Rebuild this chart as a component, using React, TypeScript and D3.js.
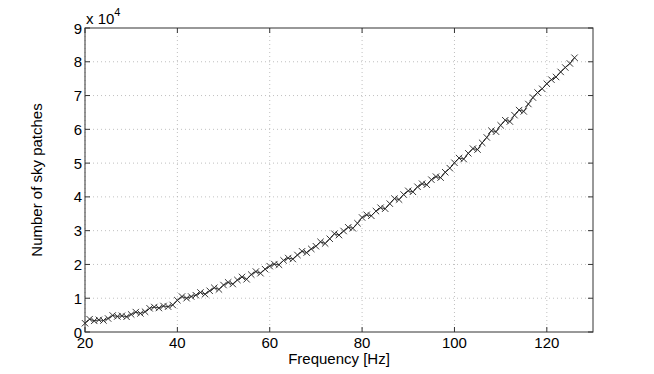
import React from 'react'
import * as d3 from 'd3'

// frequency bins (Hz) and the number of sky patches searched in each
const freqs = [
  20, 21, 22, 23, 24, 25, 26, 27, 28, 29,
  30, 31, 32, 33, 34, 35, 36, 37, 38, 39,
  40, 41, 42, 43, 44, 45, 46, 47, 48, 49,
  50, 51, 52, 53, 54, 55, 56, 57, 58, 59,
  60, 61, 62, 63, 64, 65, 66, 67, 68, 69,
  70, 71, 72, 73, 74, 75, 76, 77, 78, 79,
  80, 81, 82, 83, 84, 85, 86, 87, 88, 89,
  90, 91, 92, 93, 94, 95, 96, 97, 98, 99,
  100, 101, 102, 103, 104, 105, 106, 107, 108, 109,
  110, 111, 112, 113, 114, 115, 116, 117, 118, 119,
  120, 121, 122, 123, 124, 125, 126,
]
const patches = [
  2600, 3800, 3300, 3600, 3400, 4000, 4900, 4600, 4800, 4500,
  5200, 5900, 5500, 6000, 7000, 7400, 7100, 7700, 7500, 8000,
  9400, 10500, 10000, 10500, 10900, 11700, 11200, 12200, 13100, 12600,
  13900, 14700, 14200, 15400, 16300, 15600, 17000, 17900, 17400, 18600,
  19500, 20100, 19900, 21200, 21900, 21600, 22800, 23900, 23500, 24600,
  25400, 26700, 26200, 27600, 29100, 28700, 29900, 31000, 30700, 32200,
  33900, 34700, 34400, 35800, 36800, 36500, 38000, 39500, 39200, 40700,
  41800, 41500, 43000, 43900, 43600, 45100, 46000, 45700, 47300, 48500,
  50100, 51500, 51200, 52900, 54300, 54000, 56000, 57600, 59600, 59300,
  61200, 62700, 62300, 64200, 65700, 65300, 67500, 69400, 70900, 72000,
  73500, 74700, 75500, 77000, 78300, 79500, 81200,
]
const xTicks = [20, 40, 60, 80, 100, 120]
const yTicks = [0, 1, 2, 3, 4, 5, 6, 7, 8, 9]
const xLabel = 'Frequency [Hz]'
const yLabel = 'Number of sky patches'

const W = 654
const H = 374
const left = 85
const right = 593
const top = 28
const bottom = 332
const font = '"Liberation Sans", Arial, sans-serif'

export default function App() {
  const x = d3.scaleLinear().domain([20, 130]).range([left, right])
  const y = d3.scaleLinear().domain([0, 90000]).range([bottom, top])
  const pts = freqs.map((f, i) => [x(f), y(patches[i])] as [number, number])
  const line = d3.line()(pts) || ''
  const tk = 5
  const m = 3.2

  return (
    <svg width={W} height={H} style={{ position: 'absolute', left: 0, top: 0, background: '#fff' }} fontFamily={font}>
      <rect x={0} y={0} width={W} height={H} fill="#fff" />
      {/* grid */}
      <g stroke="#b0b0b0" strokeWidth={0.8} strokeDasharray="1,3">
        {xTicks.map((t) => (
          <line key={'gx' + t} x1={x(t)} x2={x(t)} y1={top} y2={bottom} />
        ))}
        {yTicks.slice(1, -1).map((t) => (
          <line key={'gy' + t} x1={left} x2={right} y1={y(t * 1e4)} y2={y(t * 1e4)} />
        ))}
      </g>
      {/* data */}
      <path d={line} fill="none" stroke="#222" strokeWidth={0.9} />
      <g stroke="#222" strokeWidth={0.9}>
        {pts.map(([px, py], i) => (
          <path key={i} d={`M${px - m},${py - m}L${px + m},${py + m}M${px - m},${py + m}L${px + m},${py - m}`} />
        ))}
      </g>
      {/* box and ticks */}
      <rect x={left} y={top} width={right - left} height={bottom - top} fill="none" stroke="#333" strokeWidth={1} />
      <g stroke="#333" strokeWidth={1}>
        {xTicks.map((t) => (
          <g key={'tx' + t}>
            <line x1={x(t)} x2={x(t)} y1={bottom} y2={bottom - tk} />
            <line x1={x(t)} x2={x(t)} y1={top} y2={top + tk} />
          </g>
        ))}
        {yTicks.map((t) => (
          <g key={'ty' + t}>
            <line x1={left} x2={left + tk} y1={y(t * 1e4)} y2={y(t * 1e4)} />
            <line x1={right} x2={right - tk} y1={y(t * 1e4)} y2={y(t * 1e4)} />
          </g>
        ))}
      </g>
      {/* tick labels */}
      <g fontSize={15} fill="#000">
        {xTicks.map((t) => (
          <text key={'lx' + t} x={x(t)} y={bottom + 16} textAnchor="middle">
            {t}
          </text>
        ))}
        {yTicks.map((t) => (
          <text key={'ly' + t} x={left - 3} y={y(t * 1e4) + 5.5} textAnchor="end">
            {t}
          </text>
        ))}
        <text x={left + 1} y={24}>
          x 10
          <tspan fontSize={11} dy={-8}>
            4
          </tspan>
        </text>
      </g>
      <text x={(left + right) / 2} y={364} textAnchor="middle" fontSize={15}>
        {xLabel}
      </text>
      <text transform={`translate(42,${(top + bottom) / 2}) rotate(-90)`} textAnchor="middle" fontSize={15}>
        {yLabel}
      </text>
    </svg>
  )
}
